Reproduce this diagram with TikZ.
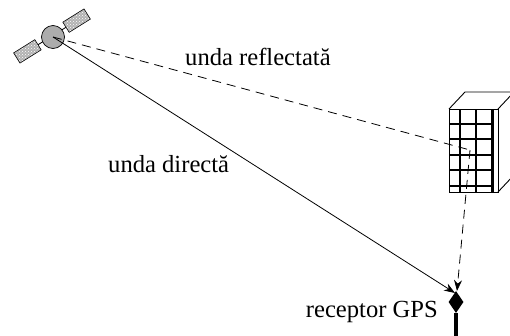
\documentclass[tikz,border=0pt]{standalone}
\usepackage{fontspec}
\setmainfont{Liberation Serif}
\usetikzlibrary{arrows.meta,patterns,shapes.geometric}
\begin{document}
\begin{tikzpicture}[x=1pt,y=-1pt,
  lbl/.style={font=\fontsize{24.6}{28}\selectfont, inner sep=0pt},
  panel/.style={fill=gray!60},
  ray/.style={line width=0.8pt},
  tip/.style={-{Stealth[length=11pt,width=8pt]}},
  grid/.style={line width=1.1pt},
  edge/.style={line width=0.9pt}]
\useasboundingbox (0,0) rectangle (510,335);
\clip (0,0) rectangle (510,335);

% satellite: two solar panels on an arm, round body
\begin{scope}[shift={(52,36)}, rotate=32]
  \draw[line width=0.8pt] (-20,0) -- (20,0);
  \foreach \s in {-1,1}{
    \path[panel] (\s*29-12.5,-6) rectangle (\s*29+12.5,6);
    \path[pattern=crosshatch dots, pattern color=white] (\s*29-12.5,-6) rectangle (\s*29+12.5,6);
    \draw[line width=0.6pt] (\s*29-12.5,-6) rectangle (\s*29+12.5,6);
  }
\end{scope}
\node[circle, draw, fill=gray!65, minimum size=23pt, inner sep=0pt, line width=0.7pt] (sat) at (53,37) {};
\coordinate (satc) at (53,37);

% building: front face with window grid, side and top faces
\draw[edge] (449,109) -- (465,92) -- (530,92);
\draw[edge] (498,109) -- (530,75);
\draw[edge] (498,192) -- (530,158);
\draw[edge] (449,109) rectangle (498,192);
\foreach \xx in {460,476}
  \draw[grid] (\xx,109) -- (\xx,192);
\fill (490.5,109) rectangle (493.5,192);
\foreach \yy in {124,139,155,170,186}
  \draw[grid] (449,\yy) -- (493,\yy);
\coordinate (refl) at (470,150);

% receiver: diamond on a thick mast
\node[diamond, fill=black, minimum width=15pt, minimum height=22pt, inner sep=0pt] (rx) at (456,302) {};
\draw[line width=3.5pt] (rx.south) -- (456,340);
\coordinate (rxtop) at (455,293);
\coordinate (rxtop2) at (457,291);

% signal paths
\draw[ray, tip] (satc) -- (rxtop);
\draw[ray, dash pattern=on 9pt off 6pt] (satc) -- (refl);
\draw[ray, tip, dash pattern=on 9pt off 6pt] (refl) -- (rxtop2);

% labels
\node[lbl, anchor=base west] (lr) at (185,65) {unda reflectată};
\node[lbl, anchor=base west] (ld) at (108,172) {unda directă};
\node[lbl, anchor=base east] (lg) at (438,317) {receptor GPS};
\end{tikzpicture}
\end{document}
